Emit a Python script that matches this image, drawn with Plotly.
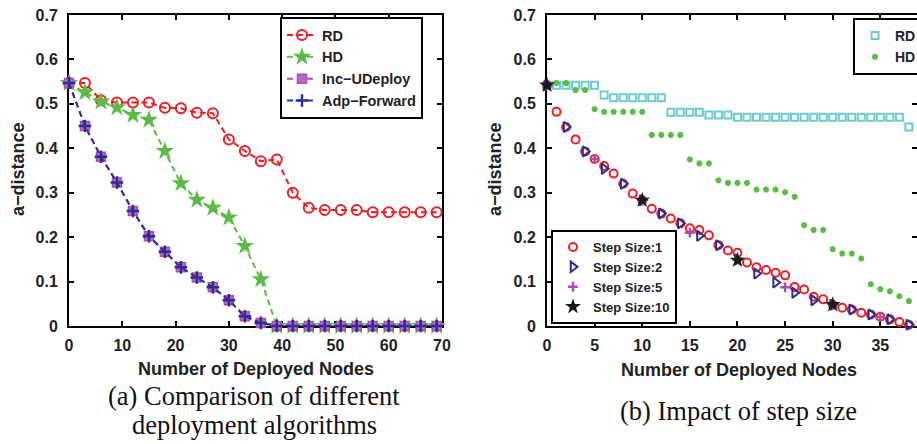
import plotly.graph_objects as go

# ---------------- data: (a) comparison of algorithms ----------------
x_a = [0, 3, 6, 9, 12, 15, 18, 21, 24, 27, 30, 33, 36, 39, 42, 45, 48, 51, 54, 57, 60, 63, 66, 69]
rd_a = [0.547, 0.547, 0.508, 0.503, 0.503, 0.503, 0.491, 0.490, 0.480, 0.479, 0.420, 0.394,
        0.371, 0.375, 0.300, 0.266, 0.261, 0.261, 0.261, 0.256, 0.256, 0.256, 0.256, 0.256]
hd_a = [0.547, 0.526, 0.505, 0.492, 0.475, 0.464, 0.394, 0.321, 0.284, 0.266, 0.244, 0.180,
        0.105, 0.0, 0.0, 0.0, 0.0, 0.0, 0.0, 0.0, 0.0, 0.0, 0.0, 0.0]
inc_a = [0.547, 0.450, 0.381, 0.323, 0.259, 0.202, 0.167, 0.132, 0.109, 0.087, 0.058, 0.022,
         0.007, 0.0, 0.0, 0.0, 0.0, 0.0, 0.0, 0.0, 0.0, 0.0, 0.0, 0.0]
adp_a = [0.547, 0.450, 0.381, 0.323, 0.259, 0.202, 0.167, 0.132, 0.109, 0.087, 0.058, 0.022,
         0.007, 0.0, 0.0, 0.0, 0.0, 0.0, 0.0, 0.0, 0.0, 0.0, 0.0, 0.0]

# ---------------- data: (b) impact of step size ----------------
x_b = [0, 1, 2, 3, 4, 5, 6, 7, 8, 9, 10, 11, 12, 13, 14, 15, 16, 17, 18, 19,
       20, 21, 22, 23, 24, 25, 26, 27, 28, 29, 30, 31, 32, 33, 34, 35, 36, 37, 38]
rd_b = [0.542, 0.542, 0.542, 0.542, 0.542, 0.542, 0.520, 0.514, 0.514, 0.514, 0.514, 0.514,
        0.514, 0.481, 0.481, 0.481, 0.481, 0.475, 0.475, 0.475, 0.470, 0.470, 0.470, 0.470,
        0.470, 0.470, 0.470, 0.470, 0.470, 0.470, 0.470, 0.470, 0.470, 0.470, 0.470, 0.470,
        0.470, 0.470, 0.448]
hd_b = [0.542, 0.547, 0.547, 0.531, 0.531, 0.488, 0.482, 0.482, 0.482, 0.482, 0.482, 0.430,
        0.430, 0.430, 0.430, 0.375, 0.366, 0.366, 0.328, 0.322, 0.322, 0.322, 0.307, 0.307,
        0.307, 0.301, 0.291, 0.227, 0.216, 0.216, 0.173, 0.163, 0.163, 0.152, 0.094, 0.083,
        0.078, 0.067, 0.056]
step1 = [0.542, 0.482, 0.448, 0.420, 0.393, 0.376, 0.360, 0.343, 0.320, 0.298, 0.283, 0.264,
         0.253, 0.242, 0.231, 0.220, 0.216, 0.204, 0.182, 0.170, 0.165, 0.143, 0.132, 0.126,
         0.120, 0.114, 0.088, 0.082, 0.066, 0.060, 0.048, 0.041, 0.037, 0.030, 0.026, 0.021,
         0.015, 0.009, 0.003]
x_s2 = [0, 2, 4, 6, 8, 10, 12, 14, 16, 18, 20, 22, 24, 26, 28, 30, 32, 34, 36, 38]
step2 = [0.542, 0.448, 0.393, 0.354, 0.320, 0.283, 0.253, 0.231, 0.203, 0.182, 0.150, 0.118,
         0.098, 0.075, 0.058, 0.048, 0.037, 0.026, 0.015, 0.003]
x_s5 = [0, 5, 10, 15, 20, 25, 30, 35]
step5 = [0.542, 0.376, 0.283, 0.210, 0.150, 0.087, 0.048, 0.021]
x_s10 = [0, 10, 20, 30]
step10 = [0.542, 0.283, 0.148, 0.048]

y_ticks = [0, 0.1, 0.2, 0.3, 0.4, 0.5, 0.6, 0.7]
y_tick_text = ["0", "0.1", "0.2", "0.3", "0.4", "0.5", "0.6", "0.7"]
x_ticks_a = [0, 10, 20, 30, 40, 50, 60, 70]
x_ticks_b = [0, 5, 10, 15, 20, 25, 30, 35]

RED = "#ee1d23"
GREEN = "#5cba47"
PURPLE = "#a84fb0"
NAVY = "#2b2f8e"
CYAN = "#6ccbcc"
DASH = "6px,4px"

fig = go.Figure()

# ---- left panel ----
fig.add_trace(go.Scatter(x=x_a, y=rd_a, name="RD", mode="lines+markers", legend="legend",
                         line=dict(color=RED, width=2, dash=DASH),
                         marker=dict(symbol="circle-open", size=10, color=RED, line=dict(width=2)),
                         cliponaxis=False, xaxis="x", yaxis="y"))
fig.add_trace(go.Scatter(x=x_a, y=hd_a, name="HD", mode="lines+markers", legend="legend",
                         line=dict(color=GREEN, width=2, dash=DASH),
                         marker=dict(symbol="star", size=14, color=GREEN),
                         cliponaxis=False, xaxis="x", yaxis="y"))
fig.add_trace(go.Scatter(x=x_a, y=inc_a, name="Inc\u2212UDeploy", mode="lines+markers", legend="legend",
                         line=dict(color=PURPLE, width=2, dash=DASH),
                         marker=dict(symbol="square", size=9, color="#b06cc0",
                                     line=dict(color=PURPLE, width=1.5)),
                         cliponaxis=False, xaxis="x", yaxis="y"))
fig.add_trace(go.Scatter(x=x_a, y=adp_a, name="Adp\u2212Forward", mode="lines+markers", legend="legend",
                         line=dict(color=NAVY, width=2, dash=DASH),
                         marker=dict(symbol="cross-thin-open", size=9, color=NAVY, line=dict(width=2.5, color=NAVY)),
                         cliponaxis=False, xaxis="x", yaxis="y"))

# ---- right panel ----
fig.add_trace(go.Scatter(x=x_b, y=rd_b, name="RD", mode="markers", legend="legend2",
                         marker=dict(symbol="square-open", size=7, color=CYAN, line=dict(width=2)),
                         cliponaxis=False, xaxis="x2", yaxis="y2"))
fig.add_trace(go.Scatter(x=x_b, y=hd_b, name="HD", mode="markers", legend="legend2",
                         marker=dict(symbol="asterisk-open", size=5, color=GREEN, line=dict(width=2, color=GREEN)),
                         cliponaxis=False, xaxis="x2", yaxis="y2"))
fig.add_trace(go.Scatter(x=x_b, y=step1, name="Step Size:1", mode="markers", legend="legend3",
                         marker=dict(symbol="circle-open", size=8, color=RED, line=dict(width=2)),
                         cliponaxis=False, xaxis="x2", yaxis="y2"))
fig.add_trace(go.Scatter(x=x_s2, y=step2, name="Step Size:2", mode="markers", legend="legend3",
                         marker=dict(symbol="triangle-right-open", size=9, color=NAVY, line=dict(width=2)),
                         cliponaxis=False, xaxis="x2", yaxis="y2"))
fig.add_trace(go.Scatter(x=x_s5, y=step5, name="Step Size:5", mode="markers", legend="legend3",
                         marker=dict(symbol="cross-thin-open", size=7, color=PURPLE, line=dict(width=2.5, color=PURPLE)),
                         cliponaxis=False, xaxis="x2", yaxis="y2"))
fig.add_trace(go.Scatter(x=x_s10, y=step10, name="Step Size:10", mode="markers", legend="legend3",
                         marker=dict(symbol="star", size=12, color="#1a1a1a"),
                         cliponaxis=False, xaxis="x2", yaxis="y2"))

TXT = "#222222"
tickfont = dict(family="Liberation Sans, Arial, sans-serif", size=16, color=TXT, weight="bold")
axis_common = dict(showline=True, linecolor="black", linewidth=2, mirror="ticks",
                   ticks="inside", ticklen=5, tickwidth=1.5, tickcolor="black",
                   showgrid=False, zeroline=False, tickfont=tickfont, layer="below traces")

W, H = 917, 444
def px(v):
    return v / W
def py(v):
    return 1 - v / H

legfont = dict(family="Liberation Sans, Arial, sans-serif", color=TXT, weight="bold")

fig.update_layout(
    width=W, height=H,
    margin=dict(l=0, r=0, t=0, b=0, autoexpand=False),
    paper_bgcolor="white", plot_bgcolor="white",
    xaxis=dict(domain=[px(69), px(442)], range=[0, 70], tickvals=x_ticks_a,
               anchor="y", ticklabelstandoff=4, **axis_common),
    yaxis=dict(domain=[py(326), py(15)], range=[0, 0.7], tickvals=y_ticks, ticktext=y_tick_text,
               anchor="x", ticklabelstandoff=6, **axis_common),
    xaxis2=dict(domain=[px(547), 1.0], range=[0, 38.85], tickvals=x_ticks_b,
                anchor="y2", ticklabelstandoff=4, **axis_common),
    yaxis2=dict(domain=[py(326), py(15)], range=[0, 0.7], tickvals=y_ticks, ticktext=y_tick_text,
                anchor="x2", ticklabelstandoff=6, **axis_common),
    legend=dict(x=px(280), y=py(17), xanchor="left", yanchor="top",
                bordercolor="black", borderwidth=2, bgcolor="white",
                font=dict(size=14.5, **legfont), tracegroupgap=0),
    legend2=dict(x=px(853), y=py(18), xanchor="left", yanchor="top",
                 bordercolor="black", borderwidth=2, bgcolor="white",
                 font=dict(size=14, **legfont)),
    legend3=dict(x=px(551), y=py(324), xanchor="left", yanchor="bottom",
                 bordercolor="black", borderwidth=2, bgcolor="white",
                 font=dict(size=13, **legfont)),
)

titlefont = dict(family="Liberation Sans, Arial, sans-serif", size=18, color=TXT, weight="bold")
capfont = dict(family="Liberation Serif, Times New Roman, serif", size=26.5, color="#111111")

annotations = [
    dict(text="Number of Deployed Nodes", x=px(255.5), y=py(369), font=titlefont),
    dict(text="Number of Deployed Nodes", x=px(739), y=py(370), font=titlefont),
    dict(text="a\u2212distance", x=px(18), y=py(169), textangle=-90, font=titlefont),
    dict(text="a\u2212distance", x=px(495), y=py(169), textangle=-90, font=titlefont),
    dict(text="(a) Comparison of different", x=px(254), y=py(396), font=capfont),
    dict(text="deployment algorithms", x=px(254), y=py(425), font=capfont),
    dict(text="(b) Impact of step size", x=px(738), y=py(411), font=capfont),
]
for a in annotations:
    fig.add_annotation(xref="paper", yref="paper", xanchor="center", yanchor="middle",
                       showarrow=False, **a)

fig.write_html("out.html", config={"displayModeBar": False},
               post_script="document.body.style.margin='0';document.body.style.overflow='hidden';")
